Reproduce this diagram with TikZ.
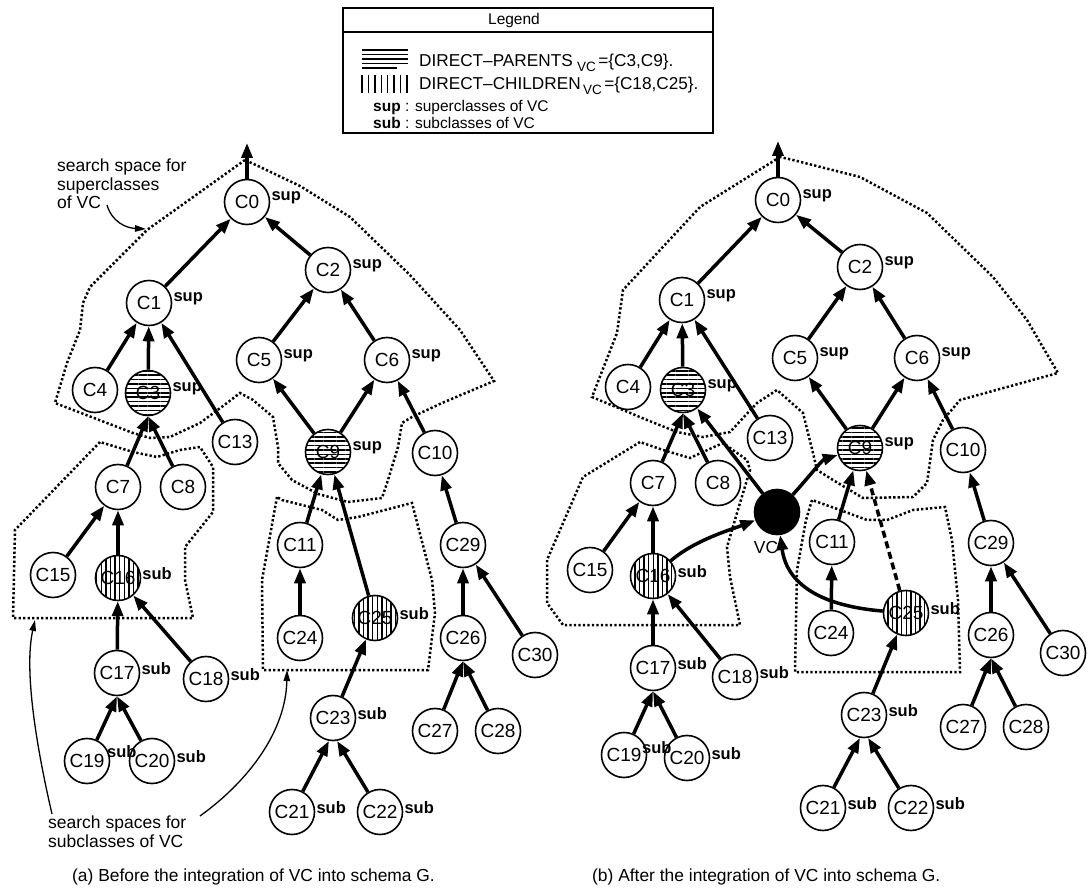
\documentclass[tikz,border=0pt]{standalone}
\usepackage{fontspec}
\setmainfont{Liberation Sans}
\usetikzlibrary{arrows.meta,patterns.meta}
\begin{document}
\begin{tikzpicture}[x=1pt,y=-1pt,
  every node/.style={font=\fontsize{17.4}{17.4}\selectfont},
  cls/.style={circle,draw,line width=1.6pt,minimum size=45pt,inner sep=0pt,fill=white,font=\fontsize{19}{19}\selectfont},
  hh/.style={cls,preaction={fill=white},pattern={Lines[angle=0,distance=4.4pt,line width=1.6pt]}},
  vv/.style={cls,preaction={fill=white},pattern={Lines[angle=90,distance=4.6pt,line width=1.4pt]}},
  lab/.style={font=\bfseries\fontsize{16.5}{16.5}\selectfont,inner sep=0pt},
  supl/.style={label={[lab,label distance=1pt,yshift=4pt]0:sup}},
  subl/.style={label={[lab,label distance=1pt,yshift=4pt]0:sub}},
  isa/.style={line width=3.5pt,-{Triangle[length=15pt,width=11pt]}},
  dots/.style={line width=2.5pt,dash pattern=on 2.3pt off 2.2pt},
  note/.style={line width=1.3pt,-{Triangle[length=11pt,width=6.5pt]}},
  ann/.style={font=\fontsize{17.5}{18.5}\selectfont,inner sep=0pt,align=left},
  leg/.style={anchor=base west,inner sep=0pt,font=\fontsize{17.2}{17.2}\selectfont},
  legsub/.style={anchor=base west,inner sep=0pt,font=\fontsize{13.5}{13.5}\selectfont},
]
\useasboundingbox (0,0) rectangle (1088,890);

% ---------------- legend ----------------
\draw[line width=1.5pt] (343,8) rectangle (713,133);
\draw[line width=1.5pt] (343,32) -- (713,32);
\node[font=\fontsize{15.5}{15.5}\selectfont] (legt) at (514,20) {Legend};
\foreach \yy in {50,54.5,59,63.5} \draw[line width=1.4pt] (362,\yy) -- (408,\yy);
\draw[line width=1.4pt] (362,68) -- (397,68);
\foreach \k in {0,...,7} \draw[line width=1.4pt] (362+\k*6.4,75) -- (362+\k*6.4,93);
\node[leg] (l1) at (419,67) {DIRECT–PARENTS};
\node[legsub] (l1v) at ([xshift=4pt,yshift=-5pt]l1.base east) {VC};
\node[leg] (l1s) at ([xshift=2pt,yshift=5pt]l1v.base east) {=\{C3,C9\}.};
\node[leg] (l2) at (419,90) {DIRECT–CHILDREN};
\node[legsub] (l2v) at ([xshift=2pt,yshift=-5pt]l2.base east) {VC};
\node[leg] (l2s) at ([xshift=2pt,yshift=5pt]l2v.base east) {=\{C18,C25\}.};
\node[anchor=base west,inner sep=0pt,font=\fontsize{15.5}{15.5}\selectfont] (l3) at (373,112) {\textbf{sup} : superclasses of VC};
\node[anchor=base west,inner sep=0pt,font=\fontsize{15.5}{15.5}\selectfont] (l4) at (373,129) {\textbf{sub} : subclasses of VC};

% ---------------- search spaces (a) ----------------
\draw[dots] (245,160) -- (147,230) -- (90,287) -- (83,303) -- (80,330) -- (67,363) -- (55,403) -- (133,433) -- (150,438) -- (170,437) -- (200,423) -- (227,403) -- (240,393) -- (253,400) -- (273,417) -- (278,447) -- (278,463) -- (292,480) -- (318,494) -- (348,502) -- (382,498) -- (388,480) -- (398,447) -- (402,423) -- (412,417) -- (442,403) -- (494,381) -- (460,330) -- (410,275) -- (350,217) -- (300,186) -- (258,166) -- cycle;
\draw[dots] (100,442) -- (15,530) -- (13,618) -- (193,618) -- (185,580) -- (185,547) -- (213,512) -- (213,467) -- (200,447) -- (180,450) -- (157,457) -- (133,452) -- cycle;
\draw[dots] (277,497) -- (262,580) -- (263,670) -- (428,670) -- (435,613) -- (432,580) -- (412,503) -- (358,517) -- (338,520) -- (322,510) -- (282,500) -- cycle;

% ---------------- search spaces (b) ----------------
\draw[dots] (780,157) -- (700,207) -- (623,290) -- (617,333) -- (592,397) -- (647,420) -- (677,432) -- (703,437) -- (730,432) -- (757,403) -- (777,390) -- (803,413) -- (813,453) -- (817,470) -- (833,480) -- (863,498) -- (913,497) -- (927,483) -- (933,440) -- (943,420) -- (960,400) -- (1058,373) -- (1027,320) -- (993,277) -- (927,213) -- (860,177) -- (793,160) -- cycle;
\draw[dots] (640,442) -- (583,477) -- (547,560) -- (547,603) -- (563,625) -- (740,625) -- (730,577) -- (727,547) -- (737,513) -- (750,470) -- (747,460) -- (723,443) -- (703,452) -- (690,458) -- (663,450) -- cycle;
\draw[dots] (812,500) -- (806,520) -- (797,570) -- (795,672) -- (960,672) -- (958,600) -- (952,540) -- (945,507) -- (913,510) -- (887,520) -- (867,520) -- (840,510) -- cycle;

% ---------------- nodes (a) ----------------
\node[cls,supl] (a0) at (247,202) {C0};
\node[cls,supl] (a1) at (149,303) {C1};
\node[cls,supl] (a2) at (328,270) {C2};
\node[cls] (a4) at (95,390) {C4};
\node[hh,supl] (a3) at (148,393) {C3};
\node[cls] (a13) at (235,442) {C13};
\node[cls,supl] (a5) at (259,360) {C5};
\node[cls,supl] (a6) at (387,360) {C6};
\node[hh,supl] (a9) at (328,452) {C9};
\node[cls] (a10) at (435,453) {C10};
\node[cls] (a7) at (118,487) {C7};
\node[cls] (a8) at (183,487) {C8};
\node[cls] (a15) at (53,575) {C15};
\node[vv,subl] (a16) at (118,578) {C16};
\node[cls] (a11) at (300,545) {C11};
\node[cls] (a29) at (463,545) {C29};
\node[cls] (a24) at (300,638) {C24};
\node[vv,subl] (a25) at (375,618) {C25};
\node[cls] (a26) at (463,638) {C26};
\node[cls] (a30) at (535,655) {C30};
\node[cls,subl] (a17) at (117,673) {C17};
\node[cls,subl] (a18) at (206,679) {C18};
\node[cls,subl] (a23) at (333,718) {C23};
\node[cls] (a27) at (435,731) {C27};
\node[cls] (a28) at (498,731) {C28};
\node[cls] (a19) at (87,761) {C19};
\node[cls,subl] (a20) at (152,761) {C20};
\node[lab,anchor=west] (a19l) at (107,752) {sub};
\node[cls,subl] (a21) at (292,812) {C21};
\node[cls,subl] (a22) at (380,812) {C22};
\coordinate (atop) at (247,143);

% ---------------- edges (a) ----------------
\draw[isa] (a0) -- (atop);
\draw[isa] (a1) -- (a0);
\draw[isa] (a2) -- (a0);
\draw[isa] (a4) -- (a1);
\draw[isa] (a3) -- (a1);
\draw[isa] (a13) -- (a1);
\draw[isa] (a5) -- (a2);
\draw[isa] (a6) -- (a2);
\draw[isa] (a9) -- (a5);
\draw[isa] (a9) -- (a6);
\draw[isa] (a10) -- (a6);
\draw[isa] (a7) -- (a3.south);
\draw[isa] (a8) -- (a3.south);
\draw[isa] (a15) -- (a7);
\draw[isa] (a16) -- (a7);
\draw[isa] (a17) -- (a16);
\draw[isa] (a18) -- (a16);
\draw[isa] (a19) -- (a17.south);
\draw[isa] (a20) -- (a17.south);
\draw[isa] (a11) -- (a9);
\draw[isa] (a24) -- (a11);
\draw[isa] (a25) -- (a9);
\draw[isa] (a23) -- (a25);
\draw[isa] (a21) -- (a23.-100);
\draw[isa] (a22) -- (a23.-80);
\draw[isa] (a29) -- (a10);
\draw[isa] (a26) -- (a29);
\draw[isa] (a30) -- (a29);
\draw[isa] (a27) -- (a26.south);
\draw[isa] (a28) -- (a26.south);

% ---------------- annotations (a) ----------------
\node[ann,anchor=north west] (supnote) at (57,159) {search space for\\superclasses\\of VC};
\coordinate (sA) at (107,205);
\coordinate (sB) at (146,229);
\draw[note] (sA) .. controls (112,222) and (126,228) .. (sB);
\node[ann,anchor=north west] (subnote) at (48,816) {search spaces for\\subclasses of VC};
\coordinate (lA) at (52,814);
\coordinate (lB) at (35,620);
\draw[note] (lA) .. controls (36,745) and (24,670) .. (lB);
\coordinate (rA) at (200,816);
\coordinate (rB) at (287,670);
\draw[note] (rA) .. controls (250,780) and (286,730) .. (rB);
\node[anchor=base west,inner sep=0pt] (capa) at (72,881) {(a) Before the integration of VC into schema G.};

% ---------------- nodes (b) ----------------
\node[cls,supl] (b0) at (778,200) {C0};
\node[cls,supl] (b1) at (682,300) {C1};
\node[cls,supl] (b2) at (860,267) {C2};
\node[cls] (b4) at (628,387) {C4};
\node[hh,supl] (b3) at (683,390) {C3};
\node[cls] (b13) at (770,438) {C13};
\node[cls,supl] (b5) at (795,358) {C5};
\node[cls,supl] (b6) at (917,358) {C6};
\node[hh,supl] (b9) at (860,448) {C9};
\node[cls] (b10) at (963,450) {C10};
\node[cls] (b7) at (653,483) {C7};
\node[cls] (b8) at (718,483) {C8};
\node[circle,fill=black,draw,line width=1.6pt,minimum size=45pt,inner sep=0pt] (vc) at (777,512) {};
\node (vclab) at (766,548) {VC};
\node[cls] (b15) at (590,570) {C15};
\node[vv,subl] (b16) at (653,576) {C16};
\node[cls] (b11) at (832,542) {C11};
\node[cls] (b29) at (991,543) {C29};
\node[cls] (b24) at (831,633) {C24};
\node[vv,subl] (b25) at (906,613) {C25};
\node[cls] (b26) at (991,635) {C26};
\node[cls] (b30) at (1063,653) {C30};
\node[cls,subl] (b17) at (653,668) {C17};
\node[cls,subl] (b18) at (735,677) {C18};
\node[cls,subl] (b23) at (864,715) {C23};
\node[cls] (b27) at (963,727) {C27};
\node[cls] (b28) at (1026,727) {C28};
\node[cls] (b19) at (624,755) {C19};
\node[cls,subl] (b20) at (687,758) {C20};
\node[lab,anchor=west] (b19l) at (642,748) {sub};
\node[cls,subl] (b21) at (823,808) {C21};
\node[cls,subl] (b22) at (911,808) {C22};
\coordinate (btop) at (778,141);

% ---------------- edges (b) ----------------
\draw[isa] (b0) -- (btop);
\draw[isa] (b1) -- (b0);
\draw[isa] (b2) -- (b0);
\draw[isa] (b4) -- (b1);
\draw[isa] (b3) -- (b1);
\draw[isa] (b13) -- (b1);
\draw[isa] (b5) -- (b2);
\draw[isa] (b6) -- (b2);
\draw[isa] (b9) -- (b5);
\draw[isa] (b9) -- (b6);
\draw[isa] (b10) -- (b6);
\draw[isa] (b7) -- (b3.south);
\draw[isa] (b8) -- (b3.south);
\draw[isa] (b15) -- (b7);
\draw[isa] (b16) -- (b7);
\draw[isa] (b17) -- (b16);
\draw[isa] (b18) -- (b16);
\draw[isa] (b19) -- (b17.south);
\draw[isa] (b20) -- (b17.south);
\draw[isa] (b11) -- (b9);
\draw[isa] (b24) -- (b11);
\draw[isa,dash pattern=on 7pt off 4pt] (b25) -- (b9);
\draw[isa] (b23) -- (b25);
\draw[isa] (b21) -- (b23.-100);
\draw[isa] (b22) -- (b23.-80);
\draw[isa] (b29) -- (b10);
\draw[isa] (b26) -- (b29);
\draw[isa] (b30) -- (b29);
\draw[isa] (b27) -- (b26.south);
\draw[isa] (b28) -- (b26.south);
\draw[isa] (vc) -- (b3);
\draw[isa] (vc) .. controls (808,478) and (822,460) .. (b9);
\draw[isa] (b16) .. controls (695,540) and (730,530) .. (vc);
\draw[isa] (b25) .. controls (822,606) and (787,585) .. (vc);

\node[anchor=base west,inner sep=0pt] (capb) at (592,881) {(b) After the integration of VC into schema G.};
\end{tikzpicture}
\end{document}
